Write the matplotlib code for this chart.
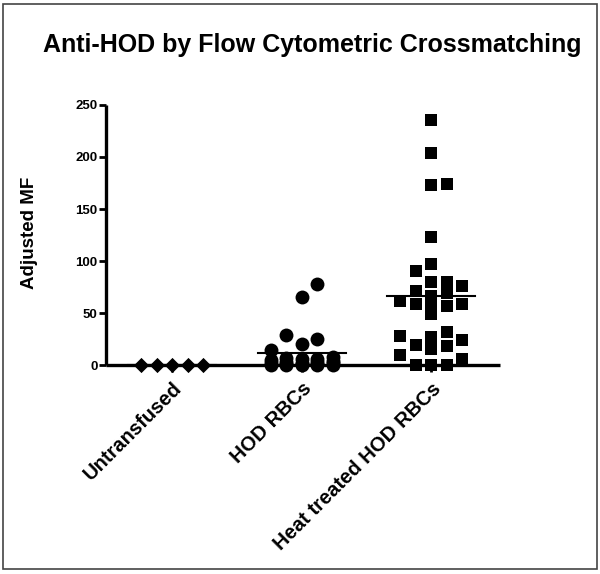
import numpy as np
import matplotlib.pyplot as plt
from matplotlib.patches import Rectangle

plt.rcParams['font.family'] = ['Liberation Sans', 'DejaVu Sans']
plt.rcParams['font.weight'] = 'bold'

# datos
grupos = ['Untransfused', 'HOD RBCs', 'Heat treated HOD RBCs']
untransfused = [0, 0, 0, 0, 0]
hod_rbcs = [0, 0, 0, 0, 0, 1, 1, 1, 2, 2, 2, 3, 3, 4, 5, 6, 6, 7, 8,
            14, 20, 25, 29, 65, 78]
heat_treated = [0, 0, 0, 6, 10, 15, 18, 19, 24, 27, 28, 32, 49, 57, 59, 59,
                61, 62, 66, 69, 71, 76, 80, 80, 90, 97, 123, 173, 174, 204, 236]
yticks = [0, 50, 100, 150, 200, 250]

series = [untransfused, hod_rbcs, heat_treated]
marcadores = ['D', 'o', 's']
tamanos = [60, 100, 64]

fig = plt.figure(figsize=(6.0, 5.74), dpi=100)
ax = fig.add_axes([106/600, 1-365/574, 394/600, 260/574])
ax.set_xlim(0.49, 3.53)
ax.set_ylim(0, 250)

# pixeles por unidad, para el reparto horizontal de los puntos
p0 = ax.transData.transform((0, 0))
p1 = ax.transData.transform((1, 1))
px_x = p1[0] - p0[0]
px_y = p1[1] - p0[1]
paso = 15.5 / px_x
orden = [0, 1, -1, 2, -2]


def repartir(vals, alto):
    # columnas tipo GraphPad: se pone cada punto en la columna con menos choques
    vals = np.sort(np.array(vals, dtype=float))
    columnas = {c: [] for c in orden}
    offs = []
    for v in vals:
        choques = [sum(abs(v - w) < alto for w in columnas[c]) for c in orden]
        c = orden[int(np.argmin(choques))]
        columnas[c].append(v)
        offs.append(c)
    return vals, np.array(offs)


for i, vals in enumerate(series):
    pos = i + 1
    size_px = np.sqrt(tamanos[i]) * 100 / 72
    vals, offs = repartir(vals, size_px / px_y)
    xs = pos + offs * paso
    ax.scatter(xs, vals, marker=marcadores[i], s=tamanos[i], color='black',
               linewidths=0, clip_on=False, zorder=3)
    m = np.mean(vals)
    ax.plot([pos - 0.34, pos + 0.34], [m, m], color='black', lw=1.5,
            clip_on=False, zorder=4)

for lado in ['top', 'right']:
    ax.spines[lado].set_visible(False)
for lado in ['left', 'bottom']:
    ax.spines[lado].set_linewidth(2.4)
    ax.spines[lado].set_capstyle('butt')

ax.set_yticks(yticks)
ax.set_yticklabels([str(t) for t in yticks], fontsize=9.5, fontweight='bold')
ax.tick_params(axis='y', length=5, width=2, pad=1)
ax.set_xticks([1, 2, 3])
ax.set_xticklabels(grupos, rotation=45, ha='right', va='top',
                   rotation_mode='anchor', fontsize=14.5, fontweight='bold')
ax.tick_params(axis='x', length=5, width=2, pad=5)

fig.text(0.52, 1-52/574, 'Anti-HOD by Flow Cytometric Crossmatching',
         ha='center', va='baseline', fontsize=18, fontweight='bold')
fig.text(29/600, 1-233/574, 'Adjusted MF', rotation=90, ha='center',
         va='center', fontsize=13.5, fontweight='bold')

# marco alrededor de la figura
fig.patches.append(Rectangle((3/600, 1-569/574), 594/600, 565/574,
                             transform=fig.transFigure, fill=False,
                             edgecolor='#444444', lw=1.2))

fig.savefig('out.png', dpi=100)
